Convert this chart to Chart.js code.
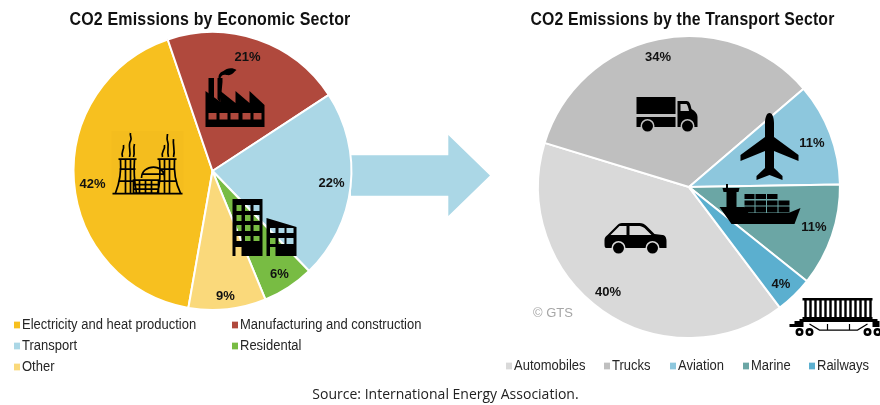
<!DOCTYPE html>
<html>
<head>
<meta charset="utf-8">
<title>CO2 Emissions</title>
<script src="https://cdn.jsdelivr.net/npm/chart.js@4"></script>
<style>
  html, body { margin: 0; padding: 0; background: #fff; }
  #page { position: relative; width: 880px; height: 405px; overflow: hidden; font-family: "Liberation Sans", Arial, sans-serif; }
  canvas { position: absolute; top: 0; }
  #arrow { position: absolute; left: 351px; top: 135px; width: 139px; height: 81px; background: #abd7e6;
           clip-path: polygon(0 25%, 70% 25%, 70% 0, 100% 50%, 70% 100%, 70% 75%, 0 75%); }
  .key { position: absolute; font-size: 13px; color: #262626; white-space: nowrap; line-height: 16px; transform: scaleY(1.12); }
  .key i { position: absolute; left: -8px; top: 5px; width: 6px; height: 6px; }
  #gts { position: absolute; left: 533px; top: 305px; font-size: 13px; color: #a6a6a6; }
  #source { position: absolute; left: 0; width: 891px; top: 384px; text-align: center; font-family: "Open Sans", sans-serif; font-size: 14px; line-height: 19px; color: #222; }
</style>
</head>
<body>
<div id="page">
  <div id="arrow"></div>
  <canvas id="sectorChart" width="420" height="405" style="left:0;width:420px;height:405px"></canvas>
  <canvas id="transportChart" width="394" height="405" style="left:486px;width:394px;height:405px"></canvas>
  <div id="gts">© GTS</div>
  <div id="source">Source: International Energy Association.</div>
</div>
<script>
// values
var sectorLabels = ['Electricity and heat production', 'Manufacturing and construction', 'Transport', 'Residental', 'Other'];
var sectorValues = [42, 21, 22, 6, 9];
var transportLabels = ['Automobiles', 'Trucks', 'Aviation', 'Marine', 'Railways'];
var transportValues = [40, 34, 11, 11, 4];

var sectorColors = ['#f7c01f', '#b0493d', '#abd7e6', '#78bc43', '#fad97b'];
var transportColors = ['#d9d9d9', '#bfbfbf', '#8dc7dd', '#6ba6a5', '#5bafcf'];

// where each percent label sits, as an offset from the pie centre
var sectorLabelOffsets = [[-120, 13], [35, -114], [119, 12], [67, 103], [13, 125]];
var transportLabelOffsets = [[-81, 105], [-31, -130], [123, -44], [125, 40], [92, 97]];

// legend slots [left, top]
var sectorLegendPos = [[22, 317], [240, 317], [22, 338], [240, 338], [22, 359]];
var transportLegendPos = [[514, 358], [612, 358], [678, 358], [751, 358], [817, 358]];

// icons as svg paths, translated to an offset from the pie centre
function circle(x, y, r) {
  return 'M' + (x - r) + ' ' + y + 'a' + r + ' ' + r + ' 0 1 0 ' + (2 * r) + ' 0a' + r + ' ' + r + ' 0 1 0 ' + (-2 * r) + ' 0Z';
}
function box(x, y, w, h) {
  return 'M' + x + ' ' + y + 'h' + w + 'v' + h + 'h' + (-w) + 'Z';
}

var factory = 'M0 23L15 34V23L30 35V23L44 35V23L59 37V59H0Z' +
  box(3, 45, 8, 6.5) + box(14, 45, 8, 6.5) + box(25, 45, 8, 6.5) + box(37, 45, 8, 6.5) + box(48, 45, 8, 6.5);
var chimneys = 'M3 10H8.5V30L3 26ZM12 10H17V14L15 35L12 31Z';
var smoke = 'M13 10C13 6 15 4 18 3C21 0 27 -1 31 2C28 4 27 8 21 7C18 6 16 7 15 10Z';

var towerBack = box(-1, -2, 72, 64);
var towers = 'M6 26H24M45 26H64M8 26C9 40 7 50 3 60M22 26C21 40 22 50 24 60M47 26C48 40 48 50 45 60M62 26C61 40 63 50 68 60' +
  'M7 36H23M6 48H23M13 26V60M18 26V60M47 36H62M46 48H64M52 26V60M57 26V60' +
  'M0 60.5H70M21 47H46V60H21ZM21 51.5H46M21 56H46M27 47V60M33 47V60M39 47V60' +
  'M29 45C29 38 35 34 41 34C47 34 52 38 52 45M29 41H52' +
  'M10 24C8 19 12 17 11 12M17 24C19 18 15 13 18 8C20 5 17 3 18 0M21 24C23 19 20 17 22 11' +
  'M50 24C48 19 53 17 52 12M56 24C54 17 57 13 55 8C54 5 55 3 55 1M61 24C63 17 60 12 61 6';

var buildings = box(0, 0, 30, 57) + 'M34 19L64 28V57H34Z' +
  box(4, 6, 5, 6) + box(12.5, 6, 5.5, 6) + box(21, 6, 6, 6) +
  box(4, 16, 5, 6) + box(12.5, 16, 5.5, 6) + box(21, 16, 6, 6) +
  box(4, 26, 5, 6) + box(12.5, 26, 5.5, 6) + box(21, 26, 6, 6) +
  box(4, 37, 5, 5) + box(12.5, 37, 5.5, 5) + box(21, 37, 6, 5) +
  box(3, 48, 6, 9) +
  box(37.5, 29, 5.5, 5) + box(46, 29, 6, 5) + box(54, 29, 7, 5) +
  box(37.5, 39, 5.5, 6) + box(46, 39, 6, 6) + box(54, 39, 7, 6) +
  box(37.5, 48, 5.5, 9);

var truck = box(0, 0, 39, 17) + box(0, 20, 39, 10) +
  'M41 4H50C53 4 54 7 55 12C59 14 61 17 61 20V30H41Z' + 'M44 7H50C51 8 52 11 52.5 14H44Z';
var truckWheels = circle(11, 29, 5.5) + circle(51, 29, 5.5);

var plane = 'M29 0C32 0 33.5 5 33.5 10V24L58 42V48L33.5 38V55L42 63V67L29 62L16 67V63L24.5 55V38L0 48V42L24.5 24V10C24.5 5 26 0 29 0Z';

var shipHull = 'M1 24H26L30 30H70L82 25L76 41H13Z';
var shipBridge = 'M4 5H21L20 9H18V25H8V9H5ZM7.5 1H9.5V5H7.5Z';
var shipBoxes = box(26, 11, 10, 5) + box(37, 11, 10.5, 5) + box(48.5, 11, 10.5, 5) +
  box(26, 17.5, 10, 5) + box(37, 17.5, 10.5, 5) + box(48.5, 17.5, 10.5, 5) + box(60, 17.5, 11, 5) +
  box(26, 23.5, 10, 6) + box(37, 23.5, 10.5, 6) + box(48.5, 23.5, 10.5, 6) + box(60, 23.5, 11, 6);

var car = 'M0 17C0 14 2 13 3 12L13 2C15 0 17 0 19 0H35C38 0 40 1 42 3L50 11L58 12C60 12 62 14 62 18V25H2C0 25 0 23 0 20Z' +
  'M6 12L15 3H22V12ZM25 3H35C37 3 38 4 40 5L47 12H25Z';
var carWheels = circle(14, 25, 5.5) + circle(48, 25, 5.5);

var railBack = box(13, 1, 70, 21);
var railStripes = 'M16 3V21M21 3V21M26 3V21M31 3V21M36 3V21M41 3V21M46 3V21M51 3V21M56 3V21M61 3V21M66 3V21M71 3V21M76 3V21M81 3V21';
var railFrame = box(13, 1, 70, 2.5) + box(13, 20, 70, 2) + box(10, 22, 78, 3) + box(5, 24, 9, 6) + box(0, 27, 5, 3) + box(83, 24, 7, 6);
var railUnder = 'M20 27L30 33H68L78 27M38 27V33M60 27V33';
var railWheels = circle(10, 35, 4) + circle(20, 35, 4) + circle(78, 35, 4) + circle(88, 35, 4) +
  circle(10, 35, 1.5) + circle(20, 35, 1.5) + circle(78, 35, 1.5) + circle(88, 35, 1.5);

var sectorIcons = [
  { path: towerBack, x: -100, y: -38, tint: 'rgba(190,140,20,0.05)' },
  { path: towers, x: -100, y: -38, stroke: 1.7 },
  { path: factory, x: -7, y: -103, rule: 'evenodd' },
  { path: chimneys, x: -7, y: -103 },
  { path: smoke, x: -7, y: -103 },
  { path: buildings, x: 20, y: 28, rule: 'evenodd' }
];
var transportIcons = [
  { path: truck, x: -52.5, y: -90, rule: 'evenodd' },
  { path: truckWheels, x: -52.5, y: -90, halo: '#bfbfbf' },
  { path: plane, x: 51.5, y: -74 },
  { path: shipHull, x: 29.5, y: -4 },
  { path: shipBridge, x: 29.5, y: -4 },
  { path: shipBoxes, x: 29.5, y: -4 },
  { path: car, x: -84.5, y: 36, rule: 'evenodd' },
  { path: carWheels, x: -84.5, y: 36, halo: '#d9d9d9' },
  { path: railBack, x: 100.5, y: 110, tint: '#fff' },
  { path: railStripes, x: 100.5, y: 110, stroke: 2.4 },
  { path: railFrame, x: 100.5, y: 110 },
  { path: railUnder, x: 100.5, y: 110, stroke: 1.2 },
  { path: railWheels, x: 100.5, y: 110, rule: 'evenodd' }
];

// draws icons and the percent labels on top of the slices
var pieExtras = {
  id: 'pieExtras',
  afterLayout: function (chart, args, opts) {
    // the title is not centred over the pie in the original
    chart.titleBlock.left += opts.titleShift;
    chart.titleBlock.right += opts.titleShift;
  },
  beforeDraw: function (chart) {
    // slightly wider title text
    chart.ctx.letterSpacing = '0.2px';
  },
  afterDatasetsDraw: function (chart, args, opts) {
    var ctx = chart.ctx;
    var arcs = chart.getDatasetMeta(0).data;
    var cx = arcs[0].x, cy = arcs[0].y;

    ctx.letterSpacing = '0px';
    opts.icons.forEach(function (icon) {
      var p = new Path2D(icon.path);
      ctx.save();
      ctx.translate(cx + icon.x, cy + icon.y);
      if (icon.tint) {
        ctx.fillStyle = icon.tint;
        ctx.fill(p);
      } else if (icon.stroke) {
        ctx.strokeStyle = '#000';
        ctx.lineWidth = icon.stroke;
        ctx.stroke(p);
      } else {
        if (icon.halo) {
          ctx.strokeStyle = icon.halo;
          ctx.lineWidth = 3;
          ctx.stroke(p);
        }
        ctx.fillStyle = '#000';
        ctx.fill(p, icon.rule || 'nonzero');
      }
      ctx.restore();
    });

    ctx.save();
    ctx.font = 'bold 13px "Liberation Sans", Arial, sans-serif';
    ctx.fillStyle = '#111';
    ctx.textAlign = 'center';
    ctx.textBaseline = 'middle';
    chart.data.datasets[0].data.forEach(function (v, i) {
      ctx.fillText(v + '%', cx + opts.offsets[i][0], cy + opts.offsets[i][1]);
    });
    ctx.restore();
  }
};

function makePie(id, labels, values, colors, rotation, titleText, titleGap, titleShift, padding, icons, offsets) {
  return new Chart(document.getElementById(id).getContext('2d'), {
    type: 'pie',
    data: {
      labels: labels,
      datasets: [{ data: values, backgroundColor: colors, borderColor: '#fff', borderWidth: 2 }]
    },
    options: {
      responsive: false,
      animation: false,
      rotation: rotation,
      layout: { padding: padding },
      plugins: {
        legend: { display: false },
        tooltip: { enabled: false },
        title: {
          display: true,
          text: titleText,
          color: '#111',
          font: { family: '"Liberation Sans", Arial, sans-serif', size: 18.8, weight: 'bold' },
          padding: { top: 8.5, bottom: titleGap }
        },
        pieExtras: { icons: icons, offsets: offsets, titleShift: titleShift }
      }
    },
    plugins: [pieExtras]
  });
}

function makeLegend(labels, colors, pos) {
  var page = document.getElementById('page');
  labels.forEach(function (name, i) {
    var d = document.createElement('div');
    d.className = 'key';
    d.style.left = pos[i][0] + 'px';
    d.style.top = pos[i][1] + 'px';
    d.textContent = name;
    var m = document.createElement('i');
    m.style.background = colors[i];
    d.appendChild(m);
    page.appendChild(d);
  });
}

makePie('sectorChart', sectorLabels, sectorValues, sectorColors, 190, 'CO2 Emissions by Economic Sector', 0, -2.5,
  { left: 72, right: 67, top: 0, bottom: 94 }, sectorIcons, sectorLabelOffsets);
makePie('transportChart', transportLabels, transportValues, transportColors, 143, 'CO2 Emissions by the Transport Sector', 4, -6.5,
  { left: 51, right: 39, top: 0, bottom: 66 }, transportIcons, transportLabelOffsets);

makeLegend(sectorLabels, sectorColors, sectorLegendPos);
makeLegend(transportLabels, transportColors, transportLegendPos);
</script>
</body>
</html>
